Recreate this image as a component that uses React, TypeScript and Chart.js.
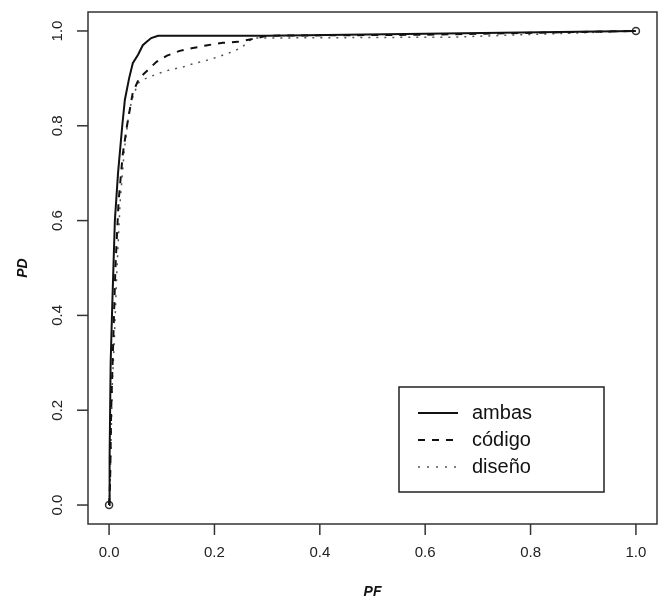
import React, { useEffect, useRef } from "react";
import { Chart, registerables } from "chart.js";

Chart.register(...registerables);

// PF (false positive rate) / PD (detection rate) for each curve
const ambasPF = [0, 0.001, 0.003, 0.006, 0.011, 0.017, 0.025, 0.03, 0.038, 0.045, 0.055, 0.064, 0.072, 0.08, 0.093, 0.3, 0.6, 1];
const ambasPD = [0, 0.1, 0.3, 0.42, 0.6, 0.7, 0.8, 0.855, 0.9, 0.932, 0.95, 0.97, 0.978, 0.985, 0.99, 0.99, 0.994, 1];

const codigoPF = [0, 0.002, 0.004, 0.008, 0.012, 0.018, 0.026, 0.034, 0.045, 0.057, 0.074, 0.09, 0.11, 0.134, 0.159, 0.187, 0.216, 0.244, 0.272, 0.3, 0.6, 1];
const codigoPD = [0, 0.05, 0.2, 0.35, 0.5, 0.64, 0.74, 0.8, 0.87, 0.9, 0.918, 0.935, 0.948, 0.958, 0.964, 0.97, 0.975, 0.977, 0.983, 0.99, 0.992, 1];

const disenoPF = [0, 0.002, 0.003, 0.006, 0.01, 0.015, 0.021, 0.029, 0.038, 0.045, 0.055, 0.068, 0.09, 0.115, 0.14, 0.163, 0.185, 0.206, 0.234, 0.253, 0.263, 0.275, 0.65, 1];
const disenoPD = [0, 0.05, 0.1, 0.25, 0.35, 0.5, 0.64, 0.75, 0.83, 0.86, 0.89, 0.899, 0.909, 0.918, 0.924, 0.932, 0.938, 0.945, 0.956, 0.966, 0.977, 0.985, 0.987, 1];

const endPF = [0, 1];
const endPD = [0, 1];

const tickValues = [0, 0.2, 0.4, 0.6, 0.8, 1.0];
const tickLabels = ["0.0", "0.2", "0.4", "0.6", "0.8", "1.0"];

const seriesNames = ["ambas", "código", "diseño"];
const xTitle = "PF";
const yTitle = "PD";

const toPts = (xs: number[], ys: number[]) => xs.map((x, i) => ({ x, y: ys[i] }));

const FONT = "'Liberation Sans', Arial, sans-serif";

const rAxesPlugin = {
  id: "rAxes",
  afterDraw(chart: any) {
    const { ctx, chartArea } = chart;
    const xs = chart.scales.x;
    const ys = chart.scales.y;
    ctx.save();
    // plot box
    ctx.strokeStyle = "#333";
    ctx.lineWidth = 1.5;
    ctx.strokeRect(chartArea.left, chartArea.top, chartArea.right - chartArea.left, chartArea.bottom - chartArea.top);

    // x axis
    ctx.fillStyle = "#222";
    ctx.font = `15px ${FONT}`;
    ctx.textAlign = "center";
    ctx.textBaseline = "middle";
    tickValues.forEach((v, i) => {
      const px = xs.getPixelForValue(v);
      ctx.beginPath();
      ctx.moveTo(px, chartArea.bottom);
      ctx.lineTo(px, chartArea.bottom + 11);
      ctx.stroke();
      ctx.fillText(tickLabels[i], px, chartArea.bottom + 29);
    });

    // y axis
    tickValues.forEach((v, i) => {
      const py = ys.getPixelForValue(v);
      ctx.beginPath();
      ctx.moveTo(chartArea.left, py);
      ctx.lineTo(chartArea.left - 11, py);
      ctx.stroke();
      ctx.save();
      ctx.translate(chartArea.left - 30, py);
      ctx.rotate(-Math.PI / 2);
      ctx.fillText(tickLabels[i], 0, 0);
      ctx.restore();
    });

    // axis titles
    ctx.font = `italic bold 14px ${FONT}`;
    ctx.fillStyle = "#111";
    ctx.fillText(xTitle, (chartArea.left + chartArea.right) / 2, chartArea.bottom + 68);
    ctx.save();
    ctx.translate(chartArea.left - 65, (chartArea.top + chartArea.bottom) / 2);
    ctx.rotate(-Math.PI / 2);
    ctx.fillText(yTitle, 0, 0);
    ctx.restore();

    // legend box
    const lr = chartArea.right - 53;
    const lb = chartArea.bottom - 32;
    const ll = lr - 205;
    const lt = lb - 105;
    ctx.fillStyle = "#fff";
    ctx.fillRect(ll, lt, lr - ll, lb - lt);
    ctx.strokeStyle = "#222";
    ctx.lineWidth = 1.5;
    ctx.strokeRect(ll, lt, lr - ll, lb - lt);
    const dashes = [[], [7, 7], [2, 7]];
    const colors = ["#111", "#111", "#555"];
    const widths = [2, 2, 1.5];
    seriesNames.forEach((name, i) => {
      const yy = lt + 26 + i * 27;
      ctx.beginPath();
      ctx.setLineDash(dashes[i]);
      ctx.strokeStyle = colors[i];
      ctx.lineWidth = widths[i];
      ctx.moveTo(ll + 19, yy);
      ctx.lineTo(ll + 59, yy);
      ctx.stroke();
      ctx.setLineDash([]);
      ctx.fillStyle = "#111";
      ctx.font = `20px ${FONT}`;
      ctx.textAlign = "left";
      ctx.fillText(name, ll + 73, yy);
    });
    ctx.restore();
  },
};

export default function App() {
  const ref = useRef<HTMLCanvasElement | null>(null);
  useEffect(() => {
    document.body.style.margin = "0";
    const canvas = ref.current!;
    const chart = new Chart(canvas, {
      type: "line",
      data: {
        datasets: [
          {
            label: seriesNames[0],
            data: toPts(ambasPF, ambasPD),
            borderColor: "#111",
            borderWidth: 2,
            pointRadius: 0,
            tension: 0,
          },
          {
            label: seriesNames[1],
            data: toPts(codigoPF, codigoPD),
            borderColor: "#111",
            borderWidth: 2,
            borderDash: [7, 7],
            pointRadius: 0,
            tension: 0,
          },
          {
            label: seriesNames[2],
            data: toPts(disenoPF, disenoPD),
            borderColor: "#555",
            borderWidth: 1.5,
            borderDash: [2, 6],
            pointRadius: 0,
            tension: 0,
          },
          {
            label: "ends",
            data: toPts(endPF, endPD),
            showLine: false,
            pointRadius: 3.5,
            pointBorderWidth: 1.5,
            pointBorderColor: "#333",
            pointBackgroundColor: "rgba(0,0,0,0)",
          },
        ],
      },
      options: {
        animation: false,
        responsive: false,
        parsing: false as any,
        layout: { padding: { left: 88, right: 7, top: 12, bottom: 77 } },
        plugins: { legend: { display: false }, tooltip: { enabled: false } },
        scales: {
          x: { type: "linear", min: -0.04, max: 1.04, display: false },
          y: { type: "linear", min: -0.04, max: 1.04, display: false },
        },
      },
      plugins: [rAxesPlugin],
    });
    return () => chart.destroy();
  }, []);
  return (
    <canvas ref={ref} width={664} height={601} style={{ display: "block", width: 664, height: 601 }} />
  );
}
